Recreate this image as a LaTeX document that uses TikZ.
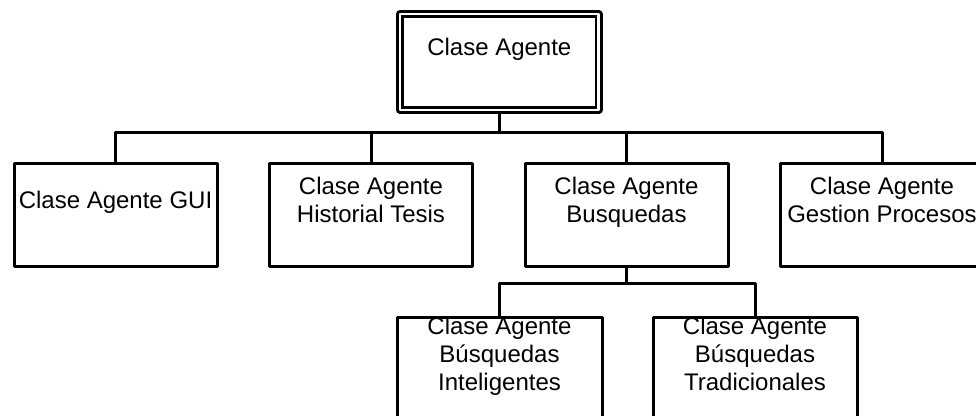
\documentclass[tikz,border=0pt]{standalone}
\usepackage{fontspec}
\setmainfont{Liberation Sans}
\begin{document}
\begin{tikzpicture}[x=1pt,y=-1pt,
  box/.style={draw, line width=3pt, line join=round, rectangle,
    minimum width=203pt, minimum height=103pt, inner sep=0pt, outer sep=0pt},
  topbox/.style={draw, line width=2.8pt, double, double distance=2.4pt,
    line join=round, rectangle, minimum width=198.5pt, minimum height=96pt,
    inner sep=0pt, outer sep=4pt},
  txt/.style={align=center, inner sep=0pt,
    font=\fontsize{24pt}{28pt}\selectfont},
  link/.style={line width=3pt, line join=round}]
\useasboundingbox (0,0) rectangle (976,415);

% root class
\node[topbox] (root) at (499.3,62) {};
\node[txt] (rootT) at ([yshift=12pt]root.center) {\strut Clase Agente};

% second level
\node[box] (gui)  at (115.5,214.5) {};
\node[box] (hist) at (371,214.5) {};
\node[box] (busq) at (626.5,214.5) {};
\node[box] (gest) at (882,214.5) {};
\node[txt] (guiT)  at ([yshift=12pt]gui.center)  {\strut Clase Agente GUI};
\node[txt] (histT) at ([yshift=12pt]hist.center) {\strut Clase Agente\\\strut Historial Tesis};
\node[txt] (busqT) at ([yshift=12pt]busq.center) {\strut Clase Agente\\\strut Busquedas};
\node[txt] (gestT) at ([yshift=12pt]gest.center) {\strut Clase Agente\\\strut Gestion Procesos};

% third level
\node[box, minimum width=205pt] (intel) at (499.5,368.5) {};
\node[box, minimum width=204pt] (trad)  at (755,368.5) {};
\node[txt] (intelT) at ([yshift=12pt]intel.center) {\strut Clase Agente\\\strut Búsquedas\\\strut Inteligentes};
\node[txt] (tradT)  at ([yshift=12pt]trad.center)  {\strut Clase Agente\\\strut Búsquedas\\\strut Tradicionales};

% connectors
\coordinate (bus1) at (0,132);
\coordinate (bus2) at (0,283);
\draw[link] (root.south) -- (root.south |- bus1);
\draw[link] (gui.north) |- (gest.north |- bus1) -- (gest.north);
\draw[link] (hist.north) -- (hist.north |- bus1);
\draw[link] (busq.north) -- (busq.north |- bus1);
\draw[link] (busq.south) -- (busq.south |- bus2);
\draw[link] (intel.north) |- (trad.north |- bus2) -- (trad.north);
\end{tikzpicture}
\end{document}
